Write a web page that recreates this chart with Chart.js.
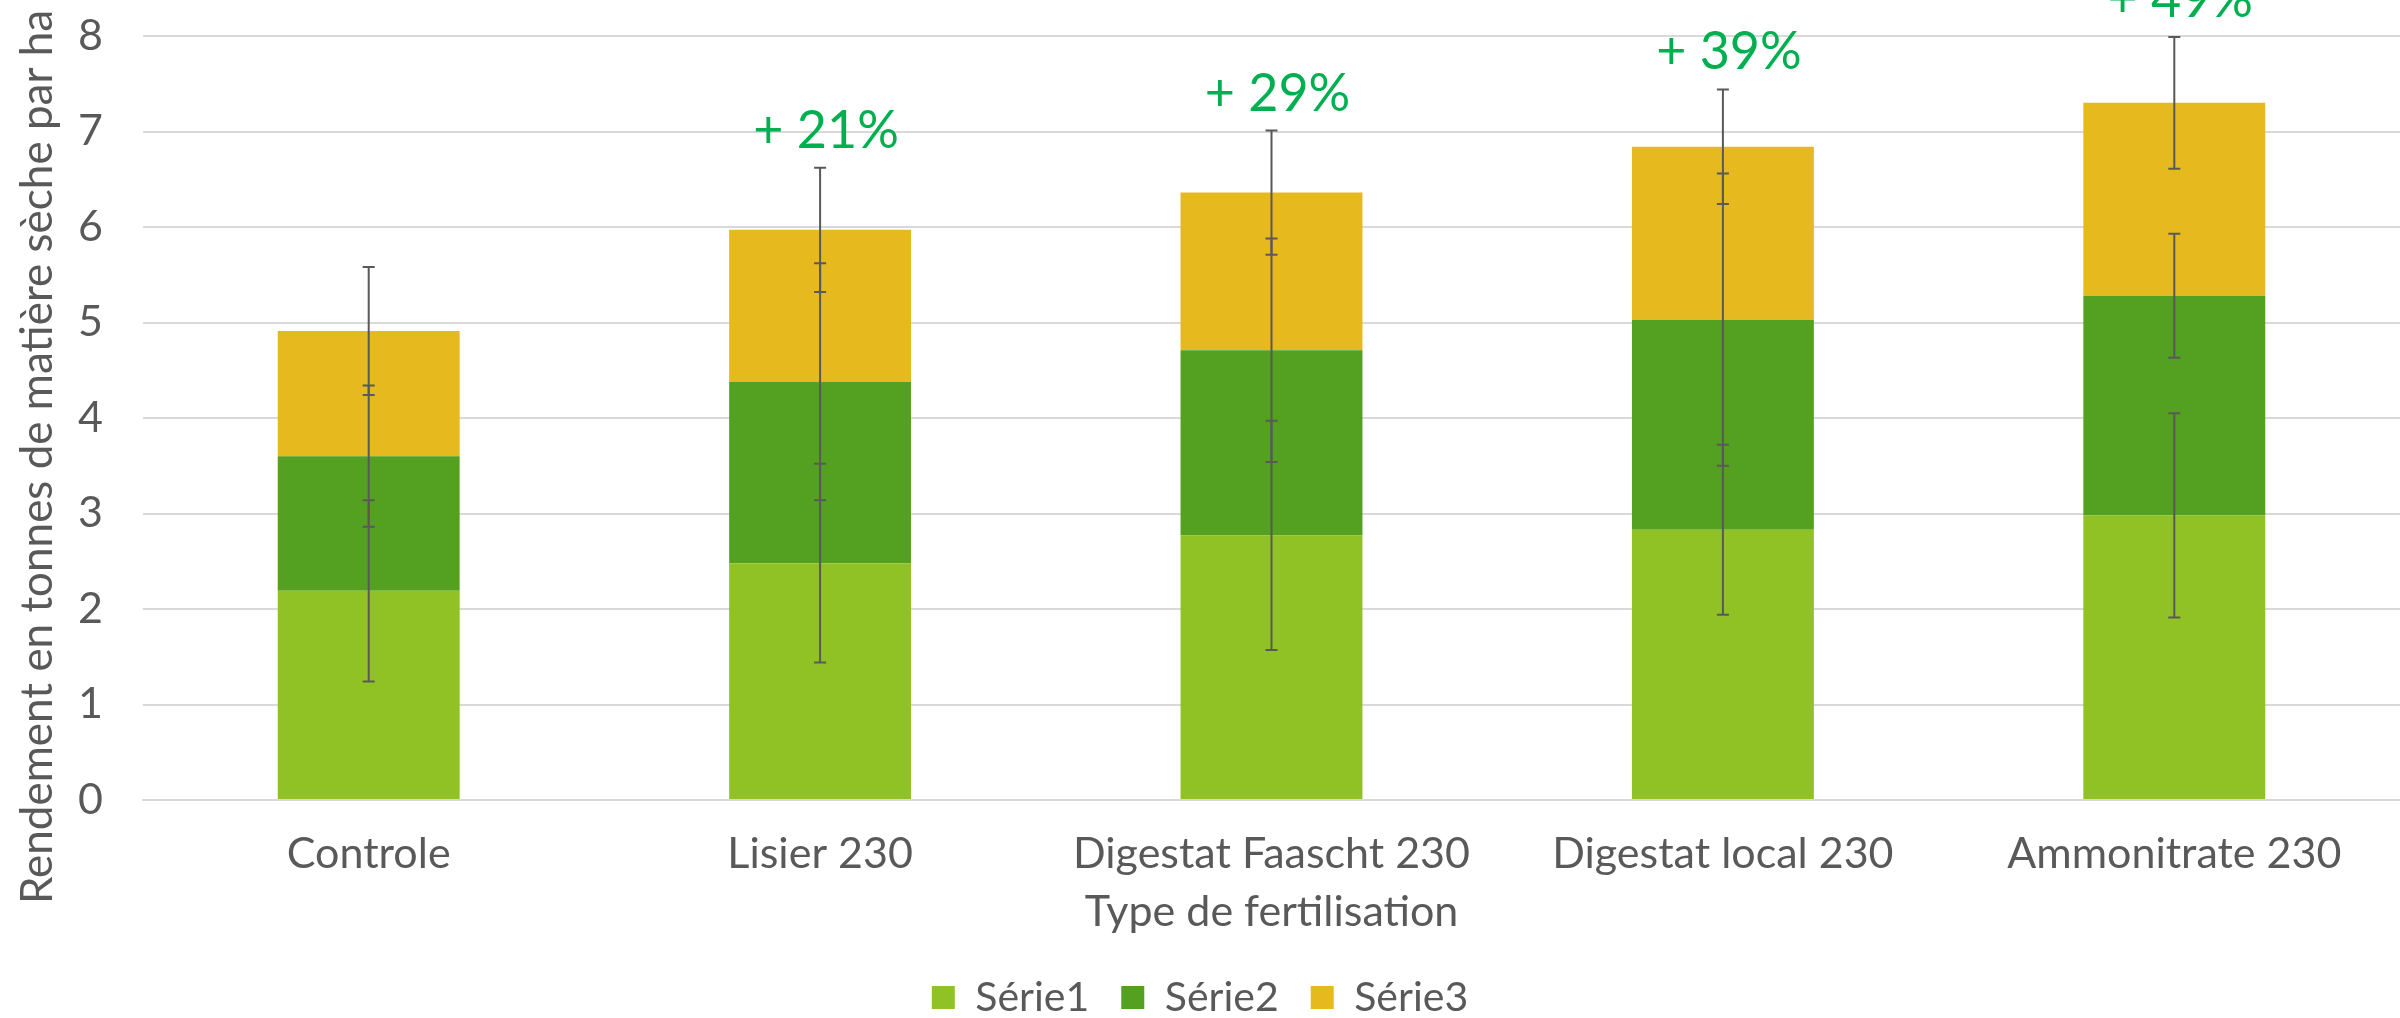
<!DOCTYPE html>
<html lang="fr">
<head>
<meta charset="utf-8">
<title>Rendement par type de fertilisation</title>
<script src="https://cdn.jsdelivr.net/npm/chart.js@4.4.1/dist/chart.umd.min.js"></script>
<style>
  html, body { margin: 0; padding: 0; background: #fff; }
  #zone { width: 2400px; height: 1018px; }
</style>
</head>
<body>
<div id="zone"><canvas id="graphique" width="2400" height="1018"></canvas></div>
<script>
const categories = ['Controle', 'Lisier 230', 'Digestat Faascht 230', 'Digestat local 230', 'Ammonitrate 230']
const serie1 = [2.19, 2.48, 2.77, 2.83, 2.98]
const serie2 = [1.41, 1.90, 1.94, 2.20, 2.30]
const serie3 = [1.31, 1.59, 1.65, 1.81, 2.02]
const erreur1 = [0.95, 1.04, 1.20, 0.89, 1.07]
const erreur2 = [0.74, 1.24, 1.17, 1.53, 0.65]
const erreur3 = [0.67, 0.65, 0.65, 0.60, 0.69]
const gains = ['', '+ 21%', '+ 29%', '+ 39%', '+ 49%']
const nomsSeries = ['Série1', 'Série2', 'Série3']
const couleurs = ['#90C226', '#54A021', '#E6B91E']
const titreY = 'Rendement en tonnes de matière sèche par ha'

document.addEventListener("DOMContentLoaded", function() {
    const gris = '#595959'
    const police = 'Lato, "Noto Sans", sans-serif'
    const series = [serie1, serie2, serie3]
    const erreurs = [erreur1, erreur2, erreur3]

    // barres d'erreur + pourcentages au-dessus de chaque pile
    const erreursPlugin = {
        id: 'erreurs',
        afterDatasetsDraw(chart) {
            const ctx = chart.ctx
            const x = chart.scales.x
            const y = chart.scales.y
            ctx.save()
            ctx.strokeStyle = gris
            ctx.lineWidth = 2
            for (let i = 0; i < categories.length; i++) {
                let cumul = 0
                let haut = 0
                for (let s = 0; s < series.length; s++) {
                    cumul += series[s][i]
                    const px = x.getPixelForValue(i)
                    const yHaut = y.getPixelForValue(cumul + erreurs[s][i])
                    const yBas = y.getPixelForValue(cumul - erreurs[s][i])
                    ctx.beginPath()
                    ctx.moveTo(px, yHaut)
                    ctx.lineTo(px, yBas)
                    ctx.moveTo(px - 6, yHaut)
                    ctx.lineTo(px + 6, yHaut)
                    ctx.moveTo(px - 6, yBas)
                    ctx.lineTo(px + 6, yBas)
                    ctx.stroke()
                    haut = yHaut
                }
                if (gains[i]) {
                    ctx.fillStyle = '#00B050'
                    ctx.font = '52px ' + police
                    ctx.textAlign = 'center'
                    ctx.textBaseline = 'alphabetic'
                    ctx.fillText(gains[i], x.getPixelForValue(i) + 6, haut - 20)
                }
            }

            // titre de l'axe Y, un peu plus bas que le centre de la zone
            ctx.fillStyle = gris
            ctx.font = '44px ' + police
            ctx.textAlign = 'center'
            ctx.textBaseline = 'alphabetic'
            ctx.translate(52, 457)
            ctx.rotate(-Math.PI / 2)
            ctx.fillText(titreY, 0, 0)
            ctx.restore()
        }
    }

    new Chart(document.getElementById('graphique'), {
        type: 'bar',
        data: {
            labels: categories,
            datasets: series.map((valeurs, s) => ({
                label: nomsSeries[s],
                data: valeurs,
                backgroundColor: couleurs[s],
                borderWidth: 0,
                categoryPercentage: 1,
                barPercentage: 0.403
            }))
        },
        options: {
            responsive: false,
            animation: false,
            devicePixelRatio: 1,
            layout: { padding: { top: 36, right: 0, left: 0, bottom: -10 } },
            plugins: {
                tooltip: { enabled: false },
                legend: {
                    position: 'bottom',
                    labels: {
                        color: gris,
                        font: { family: police, size: 41 },
                        boxWidth: 23,
                        boxHeight: 23,
                        padding: 32
                    }
                }
            },
            scales: {
                x: {
                    stacked: true,
                    grid: { display: false, drawTicks: false },
                    border: { display: true, color: '#D9D9D9', width: 2 },
                    ticks: { color: gris, font: { family: police, size: 43 }, padding: 28, maxRotation: 0 },
                    title: {
                        display: true,
                        text: 'Type de fertilisation',
                        color: gris,
                        font: { family: police, size: 43 },
                        padding: { top: 0, bottom: 7 }
                    },
                    afterFit(scale) { scale.height = 145 }
                },
                y: {
                    stacked: true,
                    min: 0,
                    max: 8,
                    ticks: { stepSize: 1, color: gris, font: { family: police, size: 43 }, padding: 40 },
                    grid: { color: '#D9D9D9', lineWidth: 2, drawTicks: false },
                    border: { display: false },
                    afterFit(scale) {
                        scale.width = 143
                        scale.paddingTop = 0
                        scale.paddingBottom = 0
                    }
                }
            }
        },
        plugins: [erreursPlugin]
    })
})
</script>
</body>
</html>
